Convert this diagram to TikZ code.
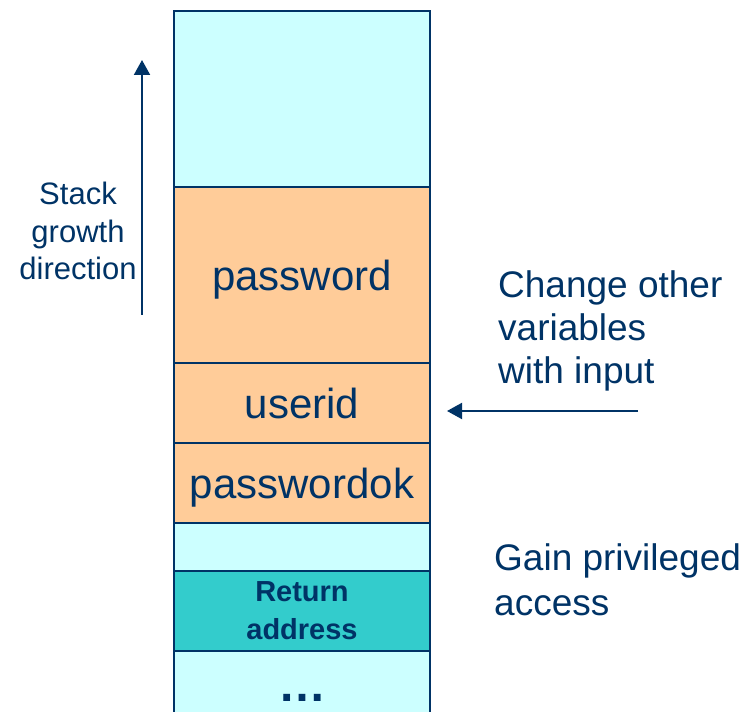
\documentclass[tikz,border=0pt]{standalone}
\usepackage{fontspec}
\setmainfont{Liberation Sans}
\usetikzlibrary{positioning,arrows.meta}
\definecolor{navy}{HTML}{003366}
\definecolor{pale}{HTML}{CCFFFF}
\definecolor{peach}{HTML}{FFCC99}
\definecolor{deepcyan}{HTML}{33CCCC}

\begin{document}
\begin{tikzpicture}[x=1pt,y=1pt,node distance=0pt,
   cell/.style={draw=navy,line width=2pt,minimum width=256pt,inner sep=0pt,outer sep=0pt,text depth=0pt,text=navy,font=\fontsize{42}{46}\selectfont},
   note/.style={text=navy,inner sep=0pt},
   growth/.style={navy,line width=2pt,-{Triangle[length=15pt,width=16pt]}}]
   \useasboundingbox (0,0) rectangle (753,712);
   \clip (0,0) rectangle (753,712);
   % the stack, top to bottom
   \node[cell,fill=pale,minimum height=176pt] (free) at (302,613) {};
   \node[cell,fill=peach,minimum height=176pt] (pw) [below=of free] {password};
   \node[cell,fill=peach,minimum height=80pt] (uid) [below=of pw] {userid};
   \node[cell,fill=peach,minimum height=80pt] (pwok) [below=of uid] {passwordok};
   \node[cell,fill=pale,minimum height=48pt] (gap) [below=of pwok] {};
   \node[cell,fill=deepcyan,minimum height=80pt,align=center,font=\bfseries\fontsize{29}{38}\selectfont] (ret) [below=of gap] {Return\\address};
   \node[cell,fill=pale,minimum height=98pt] (more) [below=of ret] {};
   \node[note,text height=6pt,text depth=0pt,font=\bfseries\fontsize{48}{48}\selectfont] (dots) at ([yshift=-48pt]more.north) {…};
   % growth direction
   \coordinate (g0) at (142,397);
   \coordinate (g1) at (142,652);
   \draw[growth] (g0) -- (g1);
   \node[note,font=\fontsize{31}{37.5}\selectfont,align=center] (dir) at (78,481) {Stack\\growth\\direction};
   % overflow input
   \coordinate (in0) at (638,301);
   \draw[growth,shorten >=17pt] (in0) -- (in0 -| uid.east);
   \node[note,font=\fontsize{37}{43}\selectfont,align=left,anchor=west] (chg) at (498,381) {Change other\\variables\\with input};
   \node[note,font=\fontsize{37}{45}\selectfont,align=left,anchor=west] (gain) at (494,132) {Gain privileged\\access};
\end{tikzpicture}
\end{document}
